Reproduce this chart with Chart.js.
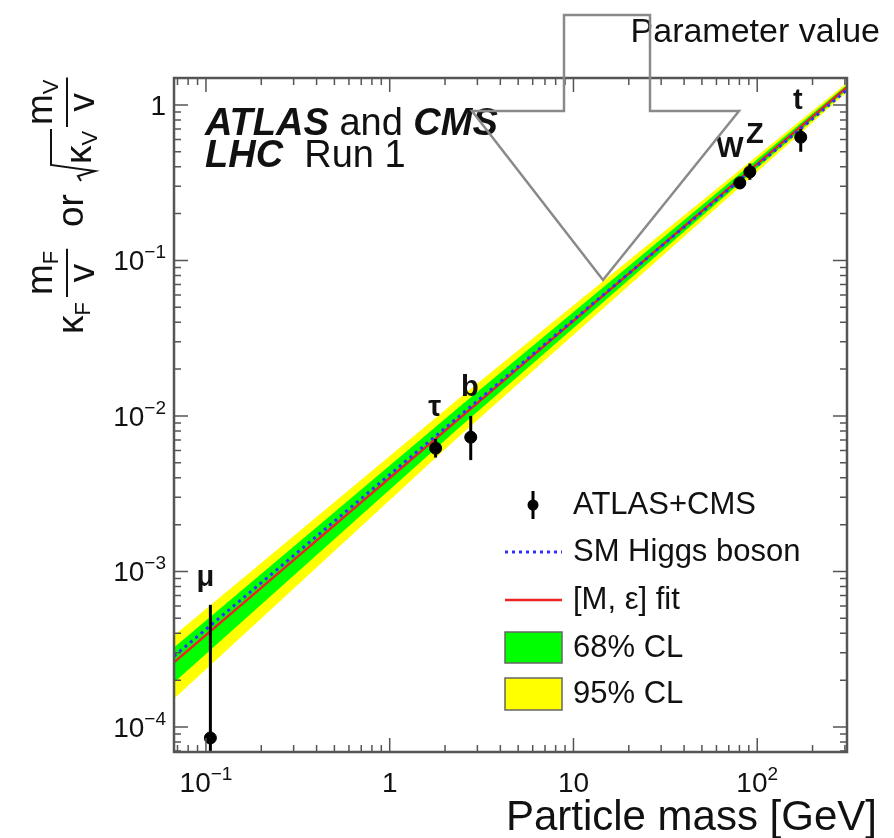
<!DOCTYPE html>
<html>
<head>
<meta charset="utf-8">
<script src="https://cdn.jsdelivr.net/npm/chart.js@4.4.1/dist/chart.umd.min.js"></script>
<style>
  body { margin: 0; background: #fff; }
</style>
</head>
<body>
<canvas id="couplingChart" width="894" height="838"></canvas>
<script>
const FONT = '"Liberation Sans", Arial, Helvetica, sans-serif';

// measured couplings (ATLAS+CMS)
const particleNames = ['μ', 'τ', 'b', 'W', 'Z', 't'];
const particleMass = [0.1057, 1.777, 2.76, 80.4, 91.2, 172.5];
const measured = [8.5e-5, 6.2e-3, 7.3e-3, 0.315, 0.371, 0.62];
const measuredHigh = [6.1e-4, 7.1e-3, 1.0e-2, 0.345, 0.42, 0.70];
const measuredLow = [5.0e-5, 5.4e-3, 5.2e-3, 0.288, 0.33, 0.50];

// SM and fit lines
const lineMass = [0.067, 308];
const smHiggs = [2.85e-4, 1.25];
const fitLine = [2.6e-4, 1.30];

// confidence bands
const bandMass = [0.067, 2.3, 308];
const band95Up = [3.88e-4, 1.25e-2, 1.39];
const band95Down = [1.52e-4, 7.1e-3, 1.21];
const band68Up = [3.24e-4, 1.1e-2, 1.35];
const band68Down = [1.93e-4, 8.1e-3, 1.25];

// axis labels
const xTicks = [0.1, 1, 10, 100];
const xTickLabels = [['10', '−1'], ['1', ''], ['10', ''], ['10', '2']];
const yTicks = [1, 0.1, 0.01, 0.001, 0.0001];
const yTickLabels = [['1', ''], ['10', '−1'], ['10', '−2'], ['10', '−3'], ['10', '−4']];

const legendLabels = ['ATLAS+CMS', 'SM Higgs boson', '[M, ε] fit', '68% CL', '95% CL'];

const GREEN = '#00ff00';
const YELLOW = '#ffff00';
const RED = '#ee2222';
const BLUE = '#3030ff';

function pts(xs, ys) {
    return xs.map((x, i) => ({ x: x, y: ys[i] }));
}

function logTicks(min, max) {
    const out = [];
    for (let e = Math.floor(Math.log10(min)); e <= Math.ceil(Math.log10(max)); e++) {
        for (let k = 1; k <= 9; k++) {
            const v = k * Math.pow(10, e);
            if (v >= min && v <= max) out.push({ v: v, major: k === 1 });
        }
    }
    return out;
}

function powerLabel(ctx, base, exp, x, y, align) {
    ctx.font = '28px ' + FONT;
    const wb = ctx.measureText(base).width;
    ctx.font = '19px ' + FONT;
    const we = exp ? ctx.measureText(exp).width : 0;
    const total = wb + we;
    const x0 = align === 'center' ? x - total / 2 : x - total;
    ctx.textAlign = 'left';
    ctx.font = '28px ' + FONT;
    ctx.fillText(base, x0, y);
    if (exp) {
        ctx.font = '19px ' + FONT;
        ctx.fillText(exp, x0 + wb, y - 12);
    }
}

// fraction m_sub / v in rotated frame
function fraction(ctx, u0, sub) {
    const big = '37px ' + FONT, small = '22px ' + FONT;
    ctx.font = big;
    const wm = ctx.measureText('m').width;
    const wv = ctx.measureText('v').width;
    ctx.font = small;
    const ws = ctx.measureText(sub).width;
    const w = Math.max(wm + ws, wv) + 4;
    const un = u0 + (w - wm - ws) / 2;
    ctx.font = big;
    ctx.fillText('m', un, -31);
    ctx.font = small;
    ctx.fillText(sub, un + wm, -25);
    ctx.font = big;
    ctx.fillText('v', u0 + (w - wv) / 2, 11);
    ctx.beginPath();
    ctx.moveTo(u0, -16);
    ctx.lineTo(u0 + w, -16);
    ctx.stroke();
    return u0 + w;
}

function drawYTitle(ctx) {
    const big = '37px ' + FONT, small = '22px ' + FONT;
    ctx.save();
    ctx.translate(83, 334);
    ctx.rotate(-Math.PI / 2);
    ctx.fillStyle = '#111';
    ctx.strokeStyle = '#111';
    ctx.lineWidth = 2;
    ctx.textAlign = 'left';
    ctx.textBaseline = 'alphabetic';
    let u = 0;
    ctx.font = big;
    ctx.fillText('κ', u, 0);
    u += ctx.measureText('κ').width;
    ctx.font = small;
    ctx.fillText('F', u, 7);
    u += ctx.measureText('F').width + 5;
    u = fraction(ctx, u, 'F');
    ctx.font = big;
    ctx.fillText('or', 107, 0);
    // square root of kappa_V
    ctx.beginPath();
    ctx.moveTo(153, -2);
    ctx.lineTo(158, -5);
    ctx.lineTo(163, 12);
    ctx.lineTo(169, -32);
    ctx.lineTo(205, -32);
    ctx.stroke();
    ctx.font = big;
    ctx.fillText('κ', 170, 8);
    const wk = ctx.measureText('κ').width;
    ctx.font = small;
    ctx.fillText('V', 170 + wk, 14);
    fraction(ctx, 207, 'V');
    ctx.restore();
}

const decorPlugin = {
    id: 'decor',
    beforeDraw(chart) {
        const ctx = chart.ctx;
        ctx.save();
        ctx.fillStyle = '#fff';
        ctx.fillRect(0, 0, chart.width, chart.height);
        ctx.restore();
    },
    afterDatasetsDraw(chart) {
        const ctx = chart.ctx;
        const xs = chart.scales.x, ys = chart.scales.y;
        const area = chart.chartArea;

        // error bars
        ctx.save();
        ctx.beginPath();
        ctx.rect(area.left, area.top, area.right - area.left, area.bottom - area.top);
        ctx.clip();
        ctx.strokeStyle = '#000';
        ctx.lineWidth = 3;
        particleMass.forEach((m, i) => {
            const px = xs.getPixelForValue(m);
            ctx.beginPath();
            ctx.moveTo(px, ys.getPixelForValue(measuredHigh[i]));
            ctx.lineTo(px, ys.getPixelForValue(measuredLow[i]));
            ctx.stroke();
        });
        ctx.restore();

        // particle labels
        const labelShift = [[-5, -19], [-1, -23], [-1, -20], [-10, -20], [5, -21], [-3, -20]];
        ctx.save();
        ctx.fillStyle = '#111';
        ctx.textAlign = 'center';
        ctx.font = 'bold 29px ' + FONT;
        particleNames.forEach((name, i) => {
            const px = xs.getPixelForValue(particleMass[i]);
            const py = ys.getPixelForValue(measuredHigh[i]);
            ctx.fillText(name, px + labelShift[i][0], py + labelShift[i][1]);
        });
        ctx.restore();

        // frame and inner ticks
        ctx.save();
        ctx.strokeStyle = '#555';
        ctx.lineWidth = 1.5;
        logTicks(xs.min, xs.max).forEach(t => {
            const px = xs.getPixelForValue(t.v);
            const len = t.major ? 14 : 7;
            ctx.beginPath();
            ctx.moveTo(px, area.bottom);
            ctx.lineTo(px, area.bottom - len);
            ctx.moveTo(px, area.top);
            ctx.lineTo(px, area.top + len);
            ctx.stroke();
        });
        logTicks(ys.min, ys.max).forEach(t => {
            const py = ys.getPixelForValue(t.v);
            const len = t.major ? 14 : 7;
            ctx.beginPath();
            ctx.moveTo(area.left, py);
            ctx.lineTo(area.left + len, py);
            ctx.moveTo(area.right, py);
            ctx.lineTo(area.right - len, py);
            ctx.stroke();
        });
        ctx.lineWidth = 2.5;
        ctx.strokeRect(area.left, area.top, area.right - area.left, area.bottom - area.top);
        ctx.restore();

        // tick labels
        ctx.save();
        ctx.fillStyle = '#111';
        xTicks.forEach((v, i) => {
            powerLabel(ctx, xTickLabels[i][0], xTickLabels[i][1], xs.getPixelForValue(v), 792, 'center');
        });
        yTicks.forEach((v, i) => {
            powerLabel(ctx, yTickLabels[i][0], yTickLabels[i][1], 166, ys.getPixelForValue(v) + 10, 'right');
        });

        // axis titles
        ctx.textAlign = 'right';
        ctx.font = '42px ' + FONT;
        ctx.fillText('Particle mass [GeV]', 877, 830);
        ctx.font = '34px ' + FONT;
        ctx.fillText('Parameter value', 880, 42);
        ctx.restore();
        drawYTitle(ctx);

        // experiment label
        ctx.save();
        ctx.fillStyle = '#111';
        ctx.textAlign = 'left';
        let x = 205;
        ctx.font = 'italic bold 38px ' + FONT;
        ctx.fillText('ATLAS', x, 135);
        x += ctx.measureText('ATLAS').width;
        ctx.font = '38px ' + FONT;
        ctx.fillText(' and ', x, 135);
        x += ctx.measureText(' and ').width;
        ctx.font = 'italic bold 38px ' + FONT;
        ctx.fillText('CMS', x, 135);
        x = 205;
        ctx.fillText('LHC', x, 167);
        x += ctx.measureText('LHC').width;
        ctx.font = '38px ' + FONT;
        ctx.fillText('  Run 1', x, 167);
        ctx.restore();

        // legend
        ctx.save();
        const rows = [505, 552, 600, 648, 694];
        ctx.strokeStyle = '#000';
        ctx.fillStyle = '#000';
        ctx.lineWidth = 3;
        ctx.beginPath();
        ctx.moveTo(533, 491);
        ctx.lineTo(533, 519);
        ctx.stroke();
        ctx.beginPath();
        ctx.arc(533, 505, 5.5, 0, Math.PI * 2);
        ctx.fill();
        ctx.strokeStyle = BLUE;
        ctx.setLineDash([3, 4]);
        ctx.beginPath();
        ctx.moveTo(505, rows[1]);
        ctx.lineTo(562, rows[1]);
        ctx.stroke();
        ctx.setLineDash([]);
        ctx.strokeStyle = RED;
        ctx.lineWidth = 2.5;
        ctx.beginPath();
        ctx.moveTo(505, rows[2]);
        ctx.lineTo(562, rows[2]);
        ctx.stroke();
        ctx.lineWidth = 1.5;
        ctx.strokeStyle = '#666';
        ctx.fillStyle = GREEN;
        ctx.fillRect(505, 632, 57, 31);
        ctx.strokeRect(505, 632, 57, 31);
        ctx.fillStyle = YELLOW;
        ctx.fillRect(505, 678, 57, 32);
        ctx.strokeRect(505, 678, 57, 32);
        ctx.fillStyle = '#111';
        ctx.font = '31px ' + FONT;
        ctx.textAlign = 'left';
        ctx.textBaseline = 'middle';
        legendLabels.forEach((txt, i) => ctx.fillText(txt, 573, rows[i]));
        ctx.restore();

        // outlined arrow overlay
        ctx.save();
        ctx.strokeStyle = '#8a8a8a';
        ctx.lineWidth = 2.5;
        ctx.beginPath();
        ctx.moveTo(564, 15);
        ctx.lineTo(650, 15);
        ctx.lineTo(650, 111);
        ctx.lineTo(739, 111);
        ctx.lineTo(603, 280);
        ctx.lineTo(472, 111);
        ctx.lineTo(564, 111);
        ctx.closePath();
        ctx.stroke();
        ctx.restore();
    }
};

const lineBase = { pointRadius: 0, borderWidth: 0, tension: 0, showLine: true };

new Chart(document.getElementById('couplingChart'), {
    type: 'scatter',
    data: {
        datasets: [
            Object.assign({}, lineBase, { label: '95% up', data: pts(bandMass, band95Up), fill: false, order: 9, borderColor: YELLOW }),
            Object.assign({}, lineBase, { label: '95% CL', data: pts(bandMass, band95Down), fill: '-1', backgroundColor: YELLOW, borderColor: YELLOW, order: 8 }),
            Object.assign({}, lineBase, { label: '68% up', data: pts(bandMass, band68Up), fill: false, order: 7, borderColor: GREEN }),
            Object.assign({}, lineBase, { label: '68% CL', data: pts(bandMass, band68Down), fill: '-1', backgroundColor: GREEN, borderColor: GREEN, order: 6 }),
            Object.assign({}, lineBase, { label: '[M, ε] fit', data: pts(lineMass, fitLine), borderColor: RED, borderWidth: 2.5, order: 5 }),
            Object.assign({}, lineBase, { label: 'SM Higgs boson', data: pts(lineMass, smHiggs), borderColor: BLUE, borderWidth: 3, borderDash: [3, 4], order: 4 }),
            {
                label: 'ATLAS+CMS',
                data: pts(particleMass, measured),
                showLine: false,
                pointRadius: 6,
                pointBackgroundColor: '#000',
                pointBorderColor: '#000',
                order: 0
            }
        ]
    },
    options: {
        responsive: false,
        animation: false,
        layout: { padding: { top: 78, right: 47, left: 0, bottom: 0 } },
        plugins: {
            legend: { display: false },
            tooltip: { enabled: false }
        },
        scales: {
            x: {
                type: 'logarithmic',
                min: 0.067,
                max: 308,
                grid: { display: false },
                border: { display: false },
                ticks: { display: false },
                afterFit: function (scale) { scale.height = 86; }
            },
            y: {
                type: 'logarithmic',
                min: 6.9e-5,
                max: 1.49,
                grid: { display: false },
                border: { display: false },
                ticks: { display: false },
                afterFit: function (scale) { scale.width = 174; }
            }
        }
    },
    plugins: [decorPlugin]
});
</script>
</body>
</html>
